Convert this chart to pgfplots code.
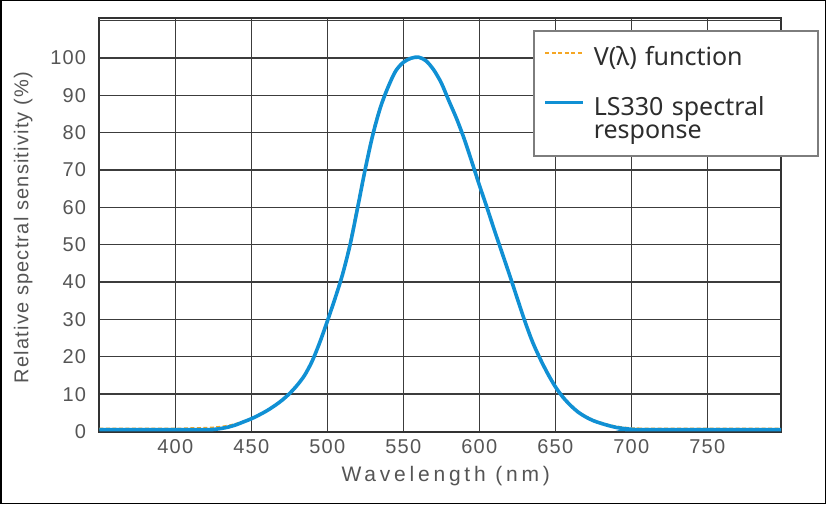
\documentclass[border=0pt]{standalone}
\usepackage{fontspec}
\usepackage{pgfplots}
\pgfplotsset{compat=1.18}
\setmainfont{Liberation Sans}
\newfontfamily\tickfont[LetterSpace=6]{Liberation Sans}
\newfontfamily\xlabfont[LetterSpace=18]{Liberation Sans}
\newfontfamily\legfont{Noto Sans}
\definecolor{vorange}{RGB}{245,166,35}
\definecolor{lsblue}{RGB}{16,144,212}
\definecolor{gridc}{RGB}{60,60,60}
\definecolor{framec}{RGB}{50,50,50}
\definecolor{labc}{RGB}{85,85,85}
\definecolor{legc}{RGB}{45,45,45}
\definecolor{legframe}{RGB}{125,125,125}

\pgfplotstableread{
x y
350 0.8
400 0.8
410 0.9
420 1.0
425 1.1
430 1.3
435 1.6
440 2.1
445 2.7
450 3.5
455 4.4
460 5.5
465 6.8
470 8.3
475 10.0
480 12.2
485 14.9
490 18.6
495 23.4
500 29.0
505 35.5
510 42.5
515 51.0
520 61.0
525 71.0
530 80.3
535 87.3
540 92.5
545 96.6
550 98.9
555 100.0
560 100.2
565 99.3
570 96.9
575 93.5
580 88.7
585 84.0
590 78.6
595 72.5
600 66.2
605 60.2
610 54.0
615 48.0
620 42.0
625 35.8
630 29.8
635 24.3
640 19.8
645 15.8
650 12.2
655 9.4
660 7.2
665 5.4
670 4.1
675 3.1
680 2.4
685 1.8
690 1.4
695 1.1
700 0.9
705 0.85
710 0.8
798.5 0.8
}\vdata

\pgfplotstableread{
x y
350 0.5
400 0.5
420 0.5
425 0.55
430 0.8
435 1.2
440 1.8
445 2.6
450 3.4
455 4.4
460 5.5
465 6.8
470 8.3
475 10.1
480 12.3
485 15.0
490 18.8
495 23.8
500 29.5
505 35.5
510 42.0
515 50.0
520 60.0
525 70.3
530 79.5
535 86.8
540 92.2
545 96.5
550 98.8
555 99.9
560 100.2
565 99.2
570 96.8
575 93.3
580 88.5
585 83.8
590 78.4
595 72.3
600 66.0
605 60.0
610 53.8
615 47.8
620 41.8
625 35.6
630 29.5
635 24.0
640 19.5
645 15.5
650 12.0
655 9.2
660 7.0
665 5.2
670 3.9
675 2.9
680 2.2
685 1.6
690 1.1
695 0.8
700 0.6
705 0.5
798.5 0.5
}\lsdata

\begin{document}
\begin{tikzpicture}
\useasboundingbox (0,0) rectangle (826pt,504pt);
\begin{axis}[
  at={(99.3pt,72.5pt)}, anchor=south west,
  scale only axis, width=681.7pt, height=413.2pt,
  xmin=350, xmax=798.5, ymin=0, ymax=110.6,
  xtick={400,450,...,750}, ytick={0,10,...,100},
  extra y ticks={110}, extra y tick labels={},
  grid=major, major grid style={gridc, line width=1.3pt},
  major tick length=0pt,
  axis line style={framec, line width=2pt},
  clip=false,
  /pgf/number format/assume math mode=true,
  ticklabel style={font=\fontsize{20}{24}\selectfont\tickfont, text=labc, inner sep=0pt},
  xticklabel style={anchor=north, yshift=-7.8pt},
  yticklabel style={anchor=east, xshift=-13pt},
  xlabel={Wavelength (nm)},
  xlabel style={font=\fontsize{21}{24}\selectfont\xlabfont, text=labc, at={(axis description cs:0.5083,-0.1198)}, anchor=base, inner sep=0pt},
  ylabel={Relative spectral sensitivity (\%)},
  ylabel style={font=\fontsize{20}{24}\selectfont\tickfont, text=labc, at={(axis description cs:-0.1039,0.4937)}, anchor=base, inner sep=0pt},
  legend style={at={(axis description cs:0.6366,0.9717)}, anchor=north west,
    draw=legframe, line width=1.8pt, fill=white,
    inner xsep=9.4pt, inner ysep=15pt,
    font=\fontsize{25}{23}\selectfont\legfont, text=legc,
    column sep=9.3pt, row sep=0pt,
    cells={anchor=base west},
    nodes={inner sep=0pt, text height=20pt, text depth=3pt, text width=215pt, align=left}},
  legend image code/.code={\draw[#1] (0pt,12.7pt) -- (37.3pt,12.7pt);},
]
\addplot[vorange, line width=1.8pt, dash pattern=on 4pt off 2.5pt, smooth, tension=0.5] table[x=x,y=y] {\vdata};
\addlegendentry[text depth=29.3pt]{V(λ) function}
\addplot[lsblue, line width=3.6pt, smooth, tension=0.5] table[x=x,y=y] {\lsdata};
\addlegendentry{LS330 spectral}
\addlegendimage{empty legend}
\addlegendentry[text depth=2.7pt]{response}
\end{axis}
\draw[black, line width=1.5pt] (0.75pt,0.75pt) rectangle (825.25pt,503.25pt);
\end{tikzpicture}
\end{document}
